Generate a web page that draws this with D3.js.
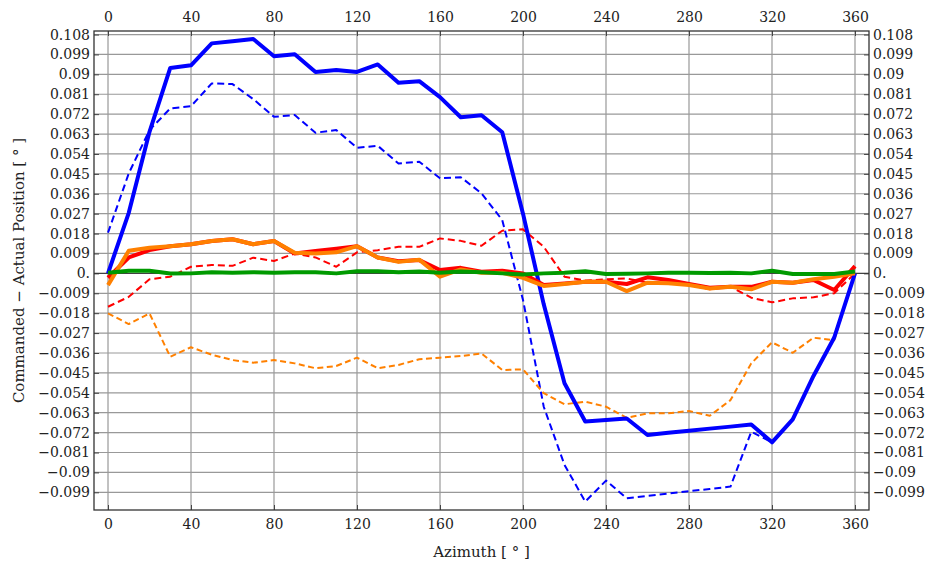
<!DOCTYPE html>
<html>
<head>
<meta charset="utf-8">
<script src="https://cdn.jsdelivr.net/npm/d3@7"></script>
<style>
  body { margin: 0; background: #fff; }
  text { font-family: "DejaVu Serif", serif; }
</style>
</head>
<body>
<div id="chart"></div>
<script>
// azimuth samples, every 10 degrees
var azimuth = [0,10,20,30,40,50,60,70,80,90,100,110,120,130,140,150,160,170,180,
  190,200,210,220,230,240,250,260,270,280,290,300,310,320,330,340,350,360];

// commanded - actual position
var blueSolid = [0,0.0274,0.064,0.0929,0.0941,0.104,0.105,0.106,0.0982,0.0991,0.0911,0.092,
  0.0911,0.0945,0.0862,0.0869,0.0797,0.0706,0.0715,0.0638,0.027,-0.014,-0.0497,-0.067,
  -0.0663,-0.0656,-0.0731,-0.0721,-0.0712,-0.0702,-0.0693,-0.0683,-0.0764,-0.066,-0.0464,
  -0.029,0];
var blueDashed = [0.0184,0.0452,0.0648,0.0746,0.0756,0.0859,0.0856,0.0788,0.0708,0.0716,
  0.0636,0.0648,0.0568,0.0577,0.0497,0.0505,0.043,0.0435,0.0362,0.0241,-0.012,-0.0603,
  -0.0866,-0.1032,-0.0937,-0.1017,-0.1006,-0.0996,-0.0985,-0.0975,-0.0964,-0.0716,-0.0764,
  -0.066,-0.0464,-0.029,0];
var redSolid = [-0.002,0.0072,0.0105,0.0123,0.0132,0.0146,0.0154,0.0132,0.0146,0.009,0.0101,
  0.0111,0.0123,0.0072,0.0055,0.006,0.0015,0.0025,0.0007,0.0012,0,-0.0053,-0.0046,-0.0038,
  -0.0038,-0.0048,-0.0018,-0.003,-0.0048,-0.0065,-0.006,-0.0061,-0.0038,-0.0042,-0.003,
  -0.0075,0.0033];
var redDashed = [-0.0151,-0.0106,-0.0027,-0.0015,0.003,0.0038,0.0034,0.0071,0.0056,0.009,
  0.0072,0.003,0.0095,0.0105,0.012,0.012,0.0158,0.0147,0.0125,0.0193,0.0199,0.012,-0.0015,
  -0.0033,-0.0027,-0.0023,-0.0042,-0.0042,-0.0053,-0.0072,-0.006,-0.011,-0.0131,-0.0113,
  -0.0108,-0.009,0];
var orangeSolid = [-0.0053,0.0102,0.0116,0.0123,0.0132,0.0146,0.0154,0.0132,0.0146,0.0093,
  0.009,0.0095,0.0123,0.0072,0.0052,0.0062,-0.0015,0.0018,0.0003,0.0003,-0.002,-0.0057,
  -0.0048,-0.0038,-0.0038,-0.008,-0.0042,-0.0045,-0.0053,-0.0068,-0.006,-0.0072,-0.0038,
  -0.0042,-0.0027,-0.0015,0];
var orangeDashed = [-0.0181,-0.0229,-0.0181,-0.0377,-0.0334,-0.0368,-0.0392,-0.0404,-0.0392,
  -0.0407,-0.0429,-0.0419,-0.0381,-0.0429,-0.0414,-0.0388,-0.0381,-0.0374,-0.0362,-0.0437,
  -0.0434,-0.0542,-0.0592,-0.058,-0.0603,-0.0653,-0.0633,-0.0633,-0.0622,-0.0644,-0.0573,
  -0.0407,-0.0312,-0.0359,-0.0291,-0.0302,0];
var greenSolid = [0.0003,0.0012,0.0012,-0.0001,0,0.0005,0.0003,0.0005,0.0003,0.0005,0.0005,
  0,0.001,0.001,0.0005,0.0008,0.0003,0.0008,0.0005,0,-0.0005,0,0.0003,0.001,-0.0003,-0.0002,
  0,0.0003,0.0003,0.0002,0.0003,0,0.0012,-0.0003,-0.0003,-0.0003,0.0008];

// tick values
var xTicks = [0,40,80,120,160,200,240,280,320,360];
var yTicks = [-0.099,-0.09,-0.081,-0.072,-0.063,-0.054,-0.045,-0.036,-0.027,-0.018,-0.009,
  0,0.009,0.018,0.027,0.036,0.045,0.054,0.063,0.072,0.081,0.09,0.099,0.108];

var w = 931, h = 567;
var mLeft = 94, mRight = 869, mTop = 31, mBottom = 510;

var svg = d3.select("#chart").append("svg")
  .attr("width", w).attr("height", h);

var x = d3.scaleLinear().domain([-6.75, 366.75]).range([mLeft, mRight]);
var y = d3.scaleLinear().domain([-0.107, 0.1096]).range([mBottom, mTop]);

function fmt(v) {
  if (Math.abs(v) < 1e-9) return "0.";
  var s = (+v.toFixed(3)).toString();
  return s.replace("-", "\u2212");
}

// grid
svg.append("g").selectAll("line").data(xTicks).enter().append("line")
  .attr("x1", d => x(d)).attr("x2", d => x(d))
  .attr("y1", mTop).attr("y2", mBottom)
  .attr("stroke", "#999").attr("stroke-width", 1.2);
svg.append("g").selectAll("line").data(yTicks).enter().append("line")
  .attr("x1", mLeft).attr("x2", mRight)
  .attr("y1", d => y(d)).attr("y2", d => y(d))
  .attr("stroke", "#999").attr("stroke-width", 1.2);

// axes on the frame
var fontSize = 14;
var gl = svg.append("g").attr("transform", "translate(" + mLeft + ",0)")
  .call(d3.axisLeft(y).tickValues(yTicks).tickFormat(fmt).tickSizeInner(-5).tickSizeOuter(0).tickPadding(4));
var gr = svg.append("g").attr("transform", "translate(" + mRight + ",0)")
  .call(d3.axisRight(y).tickValues(yTicks).tickFormat(fmt).tickSizeInner(-5).tickSizeOuter(0).tickPadding(4));
var gb = svg.append("g").attr("transform", "translate(0," + mBottom + ")")
  .call(d3.axisBottom(x).tickValues(xTicks).tickSizeInner(-5).tickSizeOuter(0).tickPadding(9));
var gt = svg.append("g").attr("transform", "translate(0," + mTop + ")")
  .call(d3.axisTop(x).tickValues(xTicks).tickSizeInner(-5).tickSizeOuter(0).tickPadding(9));
[gl, gr, gb, gt].forEach(function (g) {
  g.selectAll("text").attr("font-family", "DejaVu Serif").attr("font-size", fontSize).attr("fill", "#222");
  g.selectAll("line").attr("stroke", "#444");
  g.select(".domain").remove();
});

// zero line
svg.append("line").attr("x1", mLeft).attr("x2", mRight)
  .attr("y1", y(0)).attr("y2", y(0)).attr("stroke", "#333").attr("stroke-width", 1);

// frame
svg.append("rect").attr("x", mLeft).attr("y", mTop)
  .attr("width", mRight - mLeft).attr("height", mBottom - mTop)
  .attr("fill", "none").attr("stroke", "#333").attr("stroke-width", 1.3);

var line = d3.line().x((d, i) => x(azimuth[i])).y(d => y(d));

var series = [
  { v: blueDashed, c: "#0000ff", wd: 2, dash: "7,4" },
  { v: orangeDashed, c: "#ff8000", wd: 2, dash: "6,3.5" },
  { v: redDashed, c: "#ff0000", wd: 2, dash: "7,4" },
  { v: blueSolid, c: "#0000ff", wd: 4, dash: null },
  { v: redSolid, c: "#ff0000", wd: 4, dash: null },
  { v: orangeSolid, c: "#ff8000", wd: 4, dash: null },
  { v: greenSolid, c: "#009a00", wd: 4, dash: null }
];
series.forEach(function (s) {
  svg.append("path").datum(s.v)
    .attr("d", line)
    .attr("fill", "none")
    .attr("stroke", s.c)
    .attr("stroke-width", s.wd)
    .attr("stroke-linejoin", "round")
    .attr("stroke-dasharray", s.dash);
});

// axis titles
svg.append("text").attr("x", (mLeft + mRight) / 2).attr("y", 557)
  .attr("text-anchor", "middle").attr("font-size", 15).attr("fill", "#222")
  .text("Azimuth [ \u00b0 ]");
svg.append("text")
  .attr("transform", "translate(24," + ((mTop + mBottom) / 2) + ") rotate(-90)")
  .attr("text-anchor", "middle").attr("font-size", 15).attr("fill", "#222")
  .text("Commanded \u2212 Actual Position [ \u00b0 ]");
</script>
</body>
</html>
